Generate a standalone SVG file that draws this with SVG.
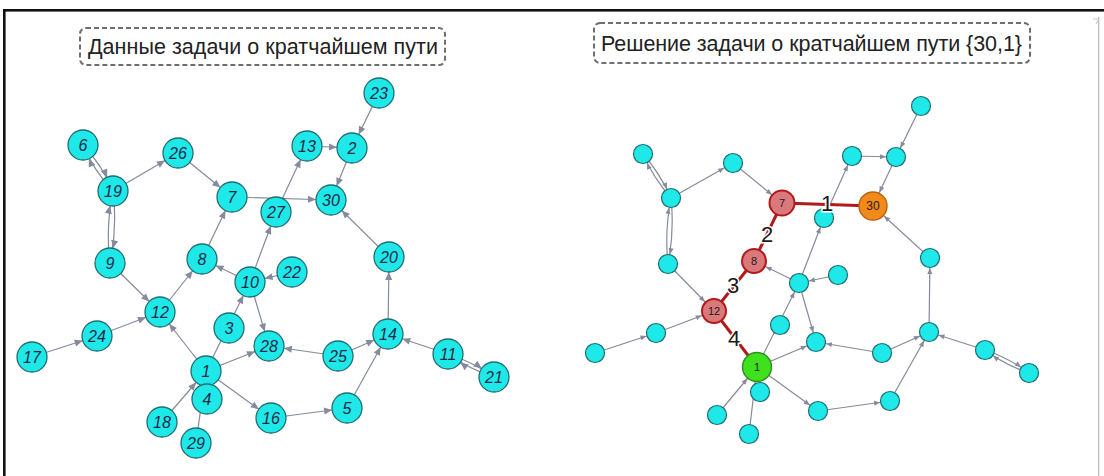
<svg xmlns="http://www.w3.org/2000/svg" width="1104" height="476" viewBox="0 0 1104 476">
<style>
.e{stroke:#858a9c;stroke-width:1.2;fill:none}
.L{marker-end:url(#aL)}
.R{marker-end:url(#aR)}
.R12{marker-end:url(#aR12)}
.R14{marker-end:url(#aR14)}
.red{stroke:#b3191b;stroke-width:3;fill:none}
.nl circle{fill:#1fe8e8;stroke:#1f6e72;stroke-width:1.3}
.nl text{font-family:'Liberation Sans',Arial,sans-serif;font-style:italic;font-size:16px;fill:#1b2a4a;text-anchor:middle}
.nr circle{fill:#1fe8e8;stroke:#1f6e72;stroke-width:1.2}
.hp circle{fill:#d9797b;stroke:#b3191b;stroke-width:2}
.hs circle{fill:#f28a1a;stroke:#b8620e;stroke-width:1.4}
.ht circle{fill:#3fe01d;stroke:#2e8f1a;stroke-width:1.4}
.hp text,.hs text,.ht text{font-family:'Liberation Sans',Arial,sans-serif;font-size:11px;fill:#2a1a1a;text-anchor:middle}
.title rect{fill:none;stroke:#6e6e6e;stroke-width:2;stroke-dasharray:5 3}
.title text{font-family:'Liberation Sans',Arial,sans-serif;font-size:21.5px;fill:#222}
.pl{font-family:'Liberation Sans',Arial,sans-serif;font-size:22px;fill:#1a1a1a;text-anchor:middle;stroke:#fff;stroke-width:3;paint-order:stroke}
</style>
<defs>
<marker id="aL" markerUnits="userSpaceOnUse" markerWidth="8" markerHeight="7" refX="23" refY="3.5" orient="auto" overflow="visible"><path d="M0,0 L8,3.5 L0,7 z" fill="#858a9c"/></marker>
<marker id="aR" markerUnits="userSpaceOnUse" markerWidth="6" markerHeight="5" refX="16" refY="2.5" orient="auto" overflow="visible"><path d="M0,0 L6,2.5 L0,5 z" fill="#858a9c"/></marker>
<marker id="aR12" markerUnits="userSpaceOnUse" markerWidth="6" markerHeight="5" refX="19" refY="2.5" orient="auto" overflow="visible"><path d="M0,0 L6,2.5 L0,5 z" fill="#858a9c"/></marker>
<marker id="aR14" markerUnits="userSpaceOnUse" markerWidth="6" markerHeight="5" refX="21" refY="2.5" orient="auto" overflow="visible"><path d="M0,0 L6,2.5 L0,5 z" fill="#858a9c"/></marker>
</defs>
<rect width="1104" height="476" fill="#fff"/>
<g id="frame">
<rect x="3" y="9" width="1101" height="2.6" fill="#111"/>
<rect x="3" y="9" width="2.6" height="467" fill="#111"/>
<rect x="1098" y="17" width="1.3" height="459" fill="#bdbdbd"/>
<path d="M1093,19 L1099,19 L1096,24" fill="none" stroke="#c4c4c4" stroke-width="1"/>
</g>
<g id="title-left" class="title">
<rect x="80" y="28" width="365" height="37" rx="6"/>
<text x="88" y="54" textLength="350">Данные задачи о кратчайшем пути</text>
</g>
<g id="title-right" class="title">
<rect x="594" y="23" width="436" height="40" rx="6"/>
<text x="601" y="51" textLength="421">Решение задачи о кратчайшем пути {30,1}</text>
</g>
<g id="connectors-left" class="e">
<line class="L" x1="379" y1="93" x2="352" y2="148"/>
<line class="L" x1="307" y1="146" x2="352" y2="148"/>
<line class="L" x1="352" y1="148" x2="331" y2="200"/>
<line class="L" x1="232" y1="197" x2="331" y2="200"/>
<line class="L" x1="276" y1="212" x2="307" y2="146"/>
<line class="L" x1="250" y1="282" x2="276" y2="212"/>
<line class="L" x1="389" y1="257" x2="331" y2="200"/>
<line class="L" x1="388" y1="334" x2="389" y2="257"/>
<line class="L" x1="113" y1="191" x2="178" y2="153"/>
<line class="L" x1="178" y1="153" x2="232" y2="197"/>
<line class="L" x1="110" y1="263" x2="160" y2="312"/>
<line class="L" x1="160" y1="312" x2="202" y2="259"/>
<line class="L" x1="202" y1="259" x2="232" y2="197"/>
<line class="L" x1="250" y1="282" x2="202" y2="259"/>
<line class="L" x1="292" y1="272" x2="250" y2="282"/>
<line class="L" x1="206" y1="371" x2="250" y2="282"/>
<line class="L" x1="250" y1="282" x2="269" y2="346"/>
<line class="L" x1="206" y1="371" x2="269" y2="346"/>
<line class="L" x1="338" y1="356" x2="269" y2="346"/>
<line class="L" x1="338" y1="356" x2="388" y2="334"/>
<line class="L" x1="347" y1="408" x2="388" y2="334"/>
<line class="L" x1="448" y1="354" x2="388" y2="334"/>
<line class="L" x1="206" y1="371" x2="271" y2="418"/>
<line class="L" x1="271" y1="418" x2="347" y2="408"/>
<line class="L" x1="162" y1="422" x2="206" y2="371"/>
<line class="L" x1="196" y1="443" x2="206" y2="371"/>
<line class="L" x1="97" y1="336" x2="160" y2="312"/>
<line class="L" x1="32" y1="357" x2="97" y2="336"/>
<line class="L" x1="206" y1="371" x2="160" y2="312"/>
<path class="L" d="M83,145 Q102,165 113,191"/>
<path class="L" d="M113,191 Q94,171 83,145"/>
<path class="L" d="M113,191 Q117.5,227 110,263"/>
<path class="L" d="M110,263 Q105.5,227 113,191"/>
<path class="L" d="M448,354 Q473,362 494,377"/>
<path class="L" d="M494,377 Q469,369 448,354"/>
</g>
<g id="connectors-right" class="e">
<line class="R" x1="921" y1="106" x2="896" y2="157"/>
<line class="R" x1="852" y1="156" x2="896" y2="157"/>
<line class="R14" x1="896" y1="157" x2="873" y2="206"/>
<line class="R" x1="824" y1="218" x2="852" y2="156"/>
<line class="R" x1="799" y1="283" x2="824" y2="218"/>
<line class="R14" x1="930" y1="258" x2="873" y2="206"/>
<line class="R" x1="929" y1="332" x2="930" y2="258"/>
<line class="R" x1="671" y1="198" x2="733" y2="163"/>
<line class="R12" x1="733" y1="163" x2="782" y2="203"/>
<line class="R12" x1="668" y1="264" x2="714" y2="311"/>
<line class="R12" x1="799" y1="283" x2="754" y2="261"/>
<line class="R" x1="838" y1="275" x2="799" y2="283"/>
<line class="R" x1="757" y1="367" x2="799" y2="283"/>
<line class="R" x1="799" y1="283" x2="816" y2="342"/>
<line class="R" x1="757" y1="367" x2="816" y2="342"/>
<line class="R" x1="882" y1="353" x2="816" y2="342"/>
<line class="R" x1="882" y1="353" x2="929" y2="332"/>
<line class="R" x1="890" y1="401" x2="929" y2="332"/>
<line class="R" x1="985" y1="350" x2="929" y2="332"/>
<line class="R" x1="757" y1="367" x2="818" y2="411"/>
<line class="R" x1="818" y1="411" x2="890" y2="401"/>
<line class="R14" x1="717" y1="415" x2="757" y2="367"/>
<line class="R14" x1="749" y1="434" x2="757" y2="367"/>
<line class="R12" x1="656" y1="333" x2="714" y2="311"/>
<line class="R" x1="595" y1="353" x2="656" y2="333"/>
<path class="R" d="M643,154 Q660.4,173.8 671,198"/>
<path class="R" d="M671,198 Q653.6,178.2 643,154"/>
<path class="R" d="M671,198 Q674.5,231.2 668,264"/>
<path class="R" d="M668,264 Q664.5,230.8 671,198"/>
<path class="R" d="M985,350 Q1008.9,358 1029,373"/>
<path class="R" d="M1029,373 Q1005.1,365 985,350"/>
<line class="red" x1="782" y1="203" x2="873" y2="206"/>
<line class="red" x1="754" y1="261" x2="782" y2="203"/>
<line class="red" x1="714" y1="311" x2="754" y2="261"/>
<line class="red" x1="757" y1="367" x2="714" y2="311"/>
</g>
<g id="nodes-left">
<g id="L23" class="nl"><circle cx="379" cy="93" r="15"/><text x="379" y="99">23</text></g>
<g id="L2" class="nl"><circle cx="352" cy="148" r="15"/><text x="352" y="154">2</text></g>
<g id="L13" class="nl"><circle cx="307" cy="146" r="15"/><text x="307" y="152">13</text></g>
<g id="L6" class="nl"><circle cx="83" cy="145" r="15"/><text x="83" y="151">6</text></g>
<g id="L26" class="nl"><circle cx="178" cy="153" r="15"/><text x="178" y="159">26</text></g>
<g id="L19" class="nl"><circle cx="113" cy="191" r="15"/><text x="113" y="197">19</text></g>
<g id="L7" class="nl"><circle cx="232" cy="197" r="15"/><text x="232" y="203">7</text></g>
<g id="L27" class="nl"><circle cx="276" cy="212" r="15"/><text x="276" y="218">27</text></g>
<g id="L30" class="nl"><circle cx="331" cy="200" r="15"/><text x="331" y="206">30</text></g>
<g id="L9" class="nl"><circle cx="110" cy="263" r="15"/><text x="110" y="269">9</text></g>
<g id="L8" class="nl"><circle cx="202" cy="259" r="15"/><text x="202" y="265">8</text></g>
<g id="L10" class="nl"><circle cx="250" cy="282" r="15"/><text x="250" y="288">10</text></g>
<g id="L22" class="nl"><circle cx="292" cy="272" r="15"/><text x="292" y="278">22</text></g>
<g id="L20" class="nl"><circle cx="389" cy="257" r="15"/><text x="389" y="263">20</text></g>
<g id="L12" class="nl"><circle cx="160" cy="312" r="15"/><text x="160" y="318">12</text></g>
<g id="L3" class="nl"><circle cx="229" cy="328" r="15"/><text x="229" y="334">3</text></g>
<g id="L24" class="nl"><circle cx="97" cy="336" r="15"/><text x="97" y="342">24</text></g>
<g id="L17" class="nl"><circle cx="32" cy="357" r="15"/><text x="32" y="363">17</text></g>
<g id="L28" class="nl"><circle cx="269" cy="346" r="15"/><text x="269" y="352">28</text></g>
<g id="L25" class="nl"><circle cx="338" cy="356" r="15"/><text x="338" y="362">25</text></g>
<g id="L14" class="nl"><circle cx="388" cy="334" r="15"/><text x="388" y="340">14</text></g>
<g id="L11" class="nl"><circle cx="448" cy="354" r="15"/><text x="448" y="360">11</text></g>
<g id="L21" class="nl"><circle cx="494" cy="377" r="15"/><text x="494" y="383">21</text></g>
<g id="L1" class="nl"><circle cx="206" cy="371" r="15"/><text x="206" y="377">1</text></g>
<g id="L4" class="nl"><circle cx="207" cy="399" r="15"/><text x="207" y="405">4</text></g>
<g id="L18" class="nl"><circle cx="162" cy="422" r="15"/><text x="162" y="428">18</text></g>
<g id="L16" class="nl"><circle cx="271" cy="418" r="15"/><text x="271" y="424">16</text></g>
<g id="L5" class="nl"><circle cx="347" cy="408" r="15"/><text x="347" y="414">5</text></g>
<g id="L29" class="nl"><circle cx="196" cy="443" r="15"/><text x="196" y="449">29</text></g>
</g>
<g id="nodes-right">
<g id="R23" class="nr"><circle cx="921" cy="106" r="9.5"/></g>
<g id="R2" class="nr"><circle cx="896" cy="157" r="9.5"/></g>
<g id="R13" class="nr"><circle cx="852" cy="156" r="9.5"/></g>
<g id="R6" class="nr"><circle cx="643" cy="154" r="9.5"/></g>
<g id="R26" class="nr"><circle cx="733" cy="163" r="9.5"/></g>
<g id="R19" class="nr"><circle cx="671" cy="198" r="9.5"/></g>
<g id="R27" class="nr"><circle cx="824" cy="218" r="9.5"/></g>
<g id="R9" class="nr"><circle cx="668" cy="264" r="9.5"/></g>
<g id="R10" class="nr"><circle cx="799" cy="283" r="9.5"/></g>
<g id="R22" class="nr"><circle cx="838" cy="275" r="9.5"/></g>
<g id="R20" class="nr"><circle cx="930" cy="258" r="9.5"/></g>
<g id="R3" class="nr"><circle cx="780" cy="325" r="9.5"/></g>
<g id="R24" class="nr"><circle cx="656" cy="333" r="9.5"/></g>
<g id="R17" class="nr"><circle cx="595" cy="353" r="9.5"/></g>
<g id="R28" class="nr"><circle cx="816" cy="342" r="9.5"/></g>
<g id="R25" class="nr"><circle cx="882" cy="353" r="9.5"/></g>
<g id="R14" class="nr"><circle cx="929" cy="332" r="9.5"/></g>
<g id="R11" class="nr"><circle cx="985" cy="350" r="9.5"/></g>
<g id="R21" class="nr"><circle cx="1029" cy="373" r="9.5"/></g>
<g id="R4" class="nr"><circle cx="760" cy="392" r="9.5"/></g>
<g id="R18" class="nr"><circle cx="717" cy="415" r="9.5"/></g>
<g id="R16" class="nr"><circle cx="818" cy="411" r="9.5"/></g>
<g id="R5" class="nr"><circle cx="890" cy="401" r="9.5"/></g>
<g id="R29" class="nr"><circle cx="749" cy="434" r="9.5"/></g>
<g id="R7" class="hp"><circle cx="782" cy="203" r="12.5"/><text x="782" y="207">7</text></g>
<g id="R8" class="hp"><circle cx="754" cy="261" r="12"/><text x="754" y="265">8</text></g>
<g id="R12" class="hp"><circle cx="714" cy="311" r="12"/><text x="714" y="315">12</text></g>
<g id="R30" class="hs"><circle cx="873" cy="206" r="14"/><text x="873" y="210" style="font-size:12px">30</text></g>
<g id="R1" class="ht"><circle cx="757" cy="367" r="14.5"/><text x="757" y="371">1</text></g>
</g>
<g id="path-labels">
<text class="pl" x="827" y="211">1</text>
<text class="pl" x="767" y="242">2</text>
<text class="pl" x="733" y="293">3</text>
<text class="pl" x="734" y="346">4</text>
</g>
</svg>
